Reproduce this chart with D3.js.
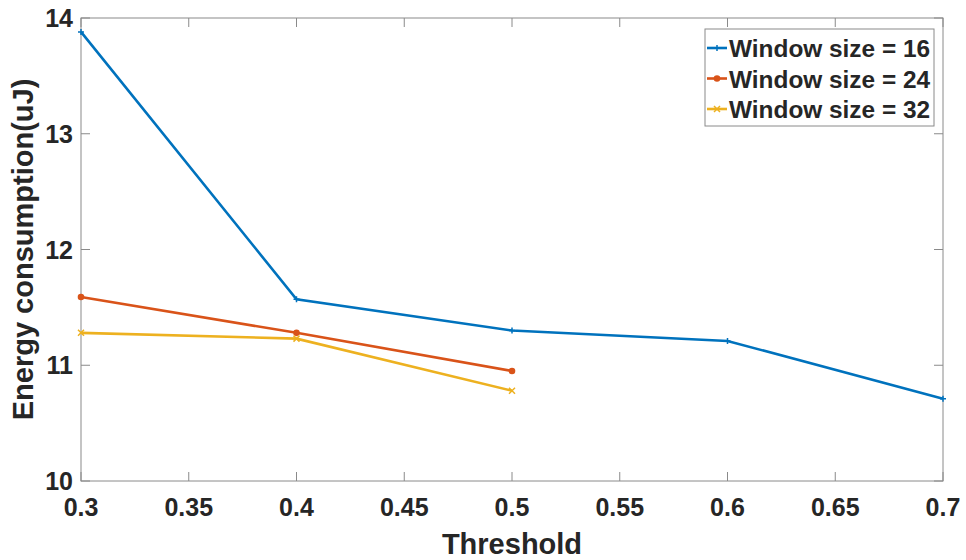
<!DOCTYPE html>
<html>
<head>
<meta charset="utf-8">
<script src="https://cdn.jsdelivr.net/npm/d3@7"></script>
<style>
  body { margin: 0; background: #fff; }
  text { font-family: "Liberation Sans", Arial, sans-serif; font-weight: bold; fill: #262626; }
</style>
</head>
<body>
<div id="chart"></div>
<script>
var thresholds = [0.3, 0.4, 0.5, 0.6, 0.7];
var win16 = [13.88, 11.57, 11.30, 11.21, 10.71];
var win24 = [11.59, 11.28, 10.95];
var win32 = [11.28, 11.23, 10.78];
var seriesNames = ['Window size = 16', 'Window size = 24', 'Window size = 32'];
var xTicks = [0.3, 0.35, 0.4, 0.45, 0.5, 0.55, 0.6, 0.65, 0.7];
var yTicks = [10, 11, 12, 13, 14];

var width = 966, height = 560;
var m = {left: 81, right: 23, top: 18, bottom: 79};
var iw = width - m.left - m.right, ih = height - m.top - m.bottom;

var colors = ['#0072BD', '#D95319', '#EDB120'];
var markers = ['plus', 'dot', 'cross'];
var series = [win16, win24, win32].map(function(vals, i){
    return { name: seriesNames[i], color: colors[i], marker: markers[i],
        points: vals.map(function(v, j){ return {x: thresholds[j], y: v}; }) };
});

var x = d3.scaleLinear().domain([0.3, 0.7]).range([0, iw]);
var y = d3.scaleLinear().domain([10, 14]).range([ih, 0]);

var svg = d3.select('#chart').append('svg')
    .attr('width', width).attr('height', height);
var g = svg.append('g').attr('transform', 'translate('+m.left+','+m.top+')');

// box and ticks
var axisColor = '#8a8a8a', tickLen = 9;
g.append('rect').attr('width', iw).attr('height', ih)
    .attr('fill', 'none').attr('stroke', axisColor).attr('stroke-width', 1);

xTicks.forEach(function(t){
    var px = x(t);
    g.append('line').attr('x1', px).attr('x2', px).attr('y1', ih).attr('y2', ih - tickLen)
        .attr('stroke', axisColor);
    g.append('line').attr('x1', px).attr('x2', px).attr('y1', 0).attr('y2', tickLen)
        .attr('stroke', axisColor);
    g.append('text').attr('x', px).attr('y', ih + 35)
        .attr('text-anchor', 'middle').style('font-size', '25px')
        .text(d3.format('')(t));
});
yTicks.forEach(function(t){
    var py = y(t);
    g.append('line').attr('x1', 0).attr('x2', tickLen).attr('y1', py).attr('y2', py)
        .attr('stroke', axisColor);
    g.append('line').attr('x1', iw).attr('x2', iw - tickLen).attr('y1', py).attr('y2', py)
        .attr('stroke', axisColor);
    g.append('text').attr('x', -8).attr('y', py + 9)
        .attr('text-anchor', 'end').style('font-size', '25px')
        .text(t);
});

// axis titles
svg.append('text').attr('x', m.left + iw/2).attr('y', 554)
    .attr('text-anchor', 'middle').style('font-size', '29px').text('Threshold');
svg.append('text').attr('transform', 'translate(33,'+(m.top + ih/2)+')rotate(-90)')
    .attr('text-anchor', 'middle').style('font-size', '29px').text('Energy consumption(uJ)');

// lines
var line = d3.line().x(function(d){ return x(d.x); }).y(function(d){ return y(d.y); });

function drawMarker(sel, type, color, px, py){
    var s = 3;
    if(type == 'plus'){
        sel.append('path').attr('d', 'M'+(px-s)+','+py+'H'+(px+s)+'M'+px+','+(py-s)+'V'+(py+s))
            .attr('stroke', color).attr('stroke-width', 1.5);
    }else if(type == 'dot'){
        sel.append('circle').attr('cx', px).attr('cy', py).attr('r', 3.3).attr('fill', color);
    }else{
        sel.append('path').attr('d', 'M'+(px-s)+','+(py-s)+'L'+(px+s)+','+(py+s)+'M'+(px-s)+','+(py+s)+'L'+(px+s)+','+(py-s))
            .attr('stroke', color).attr('stroke-width', 1.5);
    }
}

series.forEach(function(s){
    g.append('path').datum(s.points).attr('d', line)
        .attr('fill', 'none').attr('stroke', s.color).attr('stroke-width', 2.6);
    var mg = g.append('g');
    s.points.forEach(function(p){ drawMarker(mg, s.marker, s.color, x(p.x), y(p.y)); });
});

// legend
var lg = svg.append('g').attr('transform', 'translate(705,29)');
lg.append('rect').attr('width', 229).attr('height', 97)
    .attr('fill', '#fff').attr('stroke', axisColor).attr('stroke-width', 1);
series.forEach(function(s, i){
    var cy = 19 + i * 30.5;
    lg.append('line').attr('x1', 2).attr('x2', 22).attr('y1', cy).attr('y2', cy)
        .attr('stroke', s.color).attr('stroke-width', 2.6);
    drawMarker(lg, s.marker, s.color, 12, cy);
    lg.append('text').attr('x', 24).attr('y', cy + 9).style('font-size', '24.4px').text(s.name);
});
</script>
</body>
</html>
